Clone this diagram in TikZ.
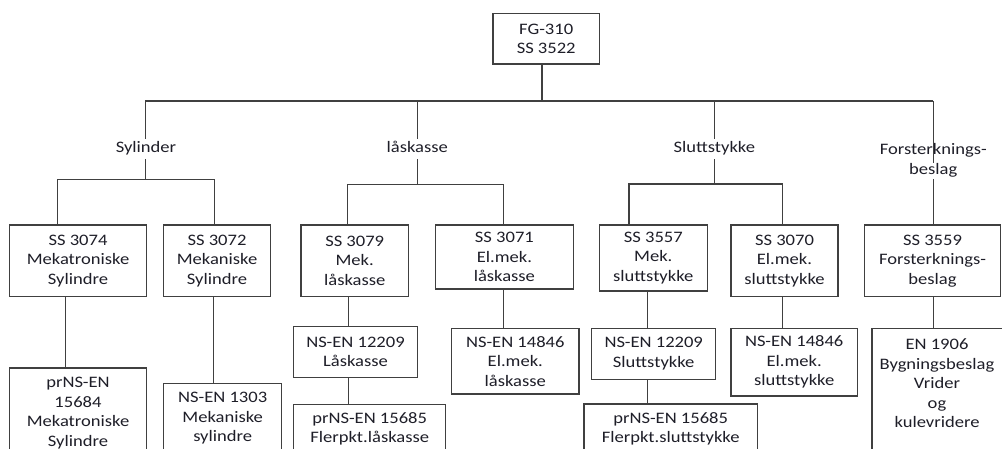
\documentclass[tikz,border=0pt]{standalone}
\usepackage{fontspec}
\setmainfont{Carlito}[FakeStretch=1.16]
\definecolor{ink}{HTML}{1E1E28}
\definecolor{rule}{HTML}{404040}
\begin{document}
\begin{tikzpicture}[x=1pt,y=-1pt,
  every node/.style={font=\fontsize{16}{19.5}\selectfont, text=ink},
  box/.style={draw=rule, line width=1.15pt, inner sep=0pt, align=center, fill=white},
  grouplabel/.style={inner xsep=1pt, inner ysep=2.5pt, text height=11pt, text depth=4pt, align=center},
  wire/.style={draw=rule, line width=1.15pt}]
\useasboundingbox (0,0) rectangle (1002,449);
\clip (0,0) rectangle (1002,449);

% top level
\node[box, minimum width=106.3pt, minimum height=50.7pt] (root) at (546.2,38.7) {FG-310\\SS 3522};

% group labels
\node[grouplabel] (lab1) at (146,149) {Sylinder};
\node[grouplabel] (lab2) at (417.3,149) {låskasse};
\node[grouplabel] (lab3) at (714.3,149) {Sluttstykke};
\node[grouplabel, inner ysep=0.5pt] (lab4) at (933.3,171) {Forsterknings-\\beslag};

% second row
\node[box, minimum width=136.6pt, minimum height=71.3pt] (s3074) at (78,260.7) {SS 3074\\Mekatroniske\\Sylindre};
\node[box, minimum width=106.6pt, minimum height=71.3pt] (s3072) at (217,260.7) {SS 3072\\Mekaniske\\Sylindre};
\node[box, minimum width=107.3pt, minimum height=71.7pt] (s3079) at (354.7,260.8) {SS 3079\\Mek.\\låskasse};
\node[box, minimum width=137.8pt, minimum height=64pt] (s3071) at (504.4,257) {SS 3071\\El.mek.\\låskasse};
\node[box, minimum width=108pt, minimum height=66pt] (s3557) at (653.3,258) {SS 3557\\Mek.\\sluttstykke};
\node[box, minimum width=107pt, minimum height=71.3pt] (s3070) at (784.5,260.7) {SS 3070\\El.mek.\\sluttstykke};
\node[box, minimum width=136.4pt, minimum height=71.3pt] (s3559) at (932.5,260.7) {SS 3559\\Forsterknings-\\beslag};

% third and fourth rows
\node[box, minimum width=136.6pt, minimum height=90pt] (p15684) at (78,413) {prNS-EN\\15684\\Mekatroniske\\Sylindre};
\node[box, minimum width=118pt, minimum height=69.4pt] (n1303) at (222.7,418.2) {NS-EN 1303\\Mekaniske\\sylindre};
\node[box, minimum width=123.6pt, minimum height=50.5pt] (n12209l) at (355.5,352) {NS-EN 12209\\Låskasse};
\node[box, minimum width=152pt, minimum height=49.4pt] (p15685l) at (369.7,429) {prNS-EN 15685\\Flerpkt.låskasse};
\node[box, minimum width=127.3pt, minimum height=65.7pt] (n14846l) at (515.3,361.2) {NS-EN 14846\\El.mek.\\låskasse};
\node[box, minimum width=124pt, minimum height=51pt] (n12209s) at (653.7,353.8) {NS-EN 12209\\Sluttstykke};
\node[box, minimum width=173.3pt, minimum height=50pt] (p15685s) at (670.7,429) {prNS-EN 15685\\Flerpkt.sluttstykke};
\node[box, minimum width=126.3pt, minimum height=67.7pt] (n14846s) at (794.2,362.2) {NS-EN 14846\\El.mek.\\sluttstykke};
\node[box, minimum width=136pt, minimum height=140pt] (en1906) at (940,398.3) {};
\node[align=center] (en1906txt) at (937,383.5) {EN 1906\\Bygningsbeslag\\Vrider\\og\\kulevridere};

% junction points of the tree
\coordinate (t0) at (542,101);
\coordinate (t1) at (145.3,101);
\coordinate (t2) at (417.3,101);
\coordinate (t3) at (714.3,101);
\coordinate (t4) at (933.3,101);
\coordinate (j1) at (145.3,179.3);
\coordinate (j2) at (417.3,184.3);
\coordinate (j3) at (714.3,184);

% top connectors
\draw[wire] ([xshift=-4.2pt]root.south) -- (t0);
\draw[wire] (t1) -- (t4);
\draw[wire] (t1) -- (t1 |- lab1.north);
\draw[wire] (t2) -- (t2 |- lab2.north);
\draw[wire] (t3) -- (t3 |- lab3.north);
\draw[wire] (t4) -- (t4 |- lab4.north);

% group connectors
\draw[wire] (j1 |- lab1.south) -- (j1);
\draw[wire] ([xshift=-20.3pt]s3074.north) |- (j1);
\draw[wire] ([xshift=-2.7pt]s3072.north) |- (j1);
\draw[wire] (j2 |- lab2.south) -- (j2);
\draw[wire] ([xshift=-7pt]s3079.north) |- (j2);
\draw[wire] ([xshift=-0.7pt]s3071.north) |- (j2);
\draw[wire] (j3 |- lab3.south) -- (j3);
\draw[wire] ([xshift=-24.3pt]s3557.north) |- (j3);
\draw[wire] ([xshift=-1.8pt]s3070.north) |- (j3);
\draw[wire] ([xshift=1pt]s3559.north |- lab4.south) -- ([xshift=1pt]s3559.north);

% lower connectors
\draw[wire] ([xshift=-12.3pt]s3074.south) -- ([xshift=-12.3pt]s3074.south |- p15684.north);
\draw[wire] ([xshift=-3.3pt]s3072.south) -- ([xshift=-3.3pt]s3072.south |- n1303.north);
\draw[wire] ([xshift=-6.4pt]s3079.south) -- ([xshift=-6.4pt]s3079.south |- n12209l.north);
\draw[wire] ([xshift=-7.2pt]n12209l.south) -- ([xshift=-7.2pt]n12209l.south |- p15685l.north);
\draw[wire] ([xshift=-0.7pt]s3071.south) -- ([xshift=-0.7pt]s3071.south |- n14846l.north);
\draw[wire] ([xshift=-5.6pt]s3557.south) -- ([xshift=-5.6pt]s3557.south |- n12209s.north);
\draw[wire] ([xshift=-6pt]n12209s.south) -- ([xshift=-6pt]n12209s.south |- p15685s.north);
\draw[wire] ([xshift=-1.8pt]s3070.south) -- ([xshift=-1.8pt]s3070.south |- n14846s.north);
\draw[wire] ([xshift=1.2pt]s3559.south) -- ([xshift=1.2pt]s3559.south |- en1906.north);
\end{tikzpicture}
\end{document}
